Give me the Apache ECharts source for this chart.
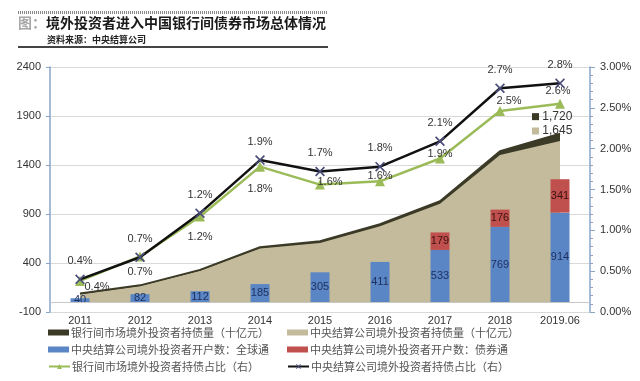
<!DOCTYPE html>
<html>
<head>
<meta charset="utf-8">
<script src="https://cdn.jsdelivr.net/npm/echarts@6/dist/echarts.min.js"></script>
<style>html,body{margin:0;padding:0;background:#fff;}#c{width:640px;height:381px;}</style>
</head>
<body>
<div id="c"></div>
<script>
var categories = ['2011','2012','2013','2014','2015','2016','2017','2018','2019.06'];
var interbankHold = [88, 172, 330, 562, 622, 795, 1030, 1540, 1720];
var ccdcHold = [80, 165, 320, 548, 605, 775, 1005, 1502, 1645];
var accountsGlobal = [40, 82, 112, 185, 305, 411, 533, 769, 914];
var accountsBondConnect = [null, null, null, null, null, null, 179, 176, 341];
var interbankShare = [0.38, 0.68, 1.17, 1.78, 1.56, 1.6, 1.88, 2.46, 2.55];
var ccdcShare = [0.4, 0.67, 1.21, 1.86, 1.72, 1.78, 2.09, 2.74, 2.8];
var interbankShareLabels = ['0.4%','0.7%','1.2%','1.8%','1.6%','1.6%','1.9%','2.5%','2.6%'];
var ccdcShareLabels = ['0.4%','0.7%','1.2%','1.9%','1.7%','1.8%','2.1%','2.7%','2.8%'];
var leftTicks = [-100, 2400, 500];
var rightTicks = [0, 3, 0.5];

var names = {
  ib: '银行间市场境外投资者持债量（十亿元）',
  cc: '中央结算公司境外投资者持债量（十亿元）',
  g: '中央结算公司境外投资者开户数：全球通',
  b: '中央结算公司境外投资者开户数：债券通',
  ibs: '银行间市场境外投资者持债占比（右）',
  ccs: '中央结算公司境外投资者持债占比（右）'
};

var greenLabelPos = [
  {position:'bottom', offset:[17,-9]},
  {position:'bottom', distance:5},
  {position:'bottom', distance:10},
  {position:'bottom', distance:12},
  {position:'inside', offset:[10,-3]},
  {position:'inside', offset:[0,-5]},
  {position:'inside', offset:[0,-4]},
  {position:'top', offset:[9,5]},
  {position:'top', offset:[-2,3]}
];

var greenData = interbankShare.map(function(v,i){
  return {value:v, label:Object.assign({formatter: interbankShareLabels[i]}, greenLabelPos[i])};
});
var blackData = ccdcShare.map(function(v,i){
  return {value:v, label:{formatter: ccdcShareLabels[i]}};
});

var xPath = 'path://M0,1.2L1.2,0L10,8.8L8.8,10Z M8.8,0L10,1.2L1.2,10L0,8.8Z';
var font = '"Liberation Sans", Arial, sans-serif';
var cjk = '"Noto Sans CJK SC", sans-serif';

function leg(name, left, top, icon) {
  var d = {name:name};
  if (icon) d.icon = icon;
  return {
    orient:'horizontal', left:left, top:top, itemWidth:21, itemHeight:6, itemGap:0,
    padding:0, selectedMode:false,
    textStyle:{fontFamily:cjk, fontSize:11, color:'#555', padding:[0,0,0,-3]},
    data:[d]
  };
}

var chart = echarts.init(document.getElementById('c'));
chart.setOption({
  animation: false,
  backgroundColor: '#fff',
  graphic: [
    {type:'line', shape:{x1:18,y1:12.5,x2:328,y2:12.5}, style:{stroke:'#888', lineWidth:3, lineDash:[1,1]}},
    {type:'text', left:18, top:16, style:{text:'图：', font:'bold 14px '+cjk, fill:'#a8a8a8'}},
    {type:'text', left:46, top:16, style:{text:'境外投资者进入中国银行间债券市场总体情况', font:'bold 14px '+cjk, fill:'#1a1a1a'}},
    {type:'text', left:47, top:35, style:{text:'资料来源：中央结算公司', font:'bold 9px '+cjk, fill:'#222'}},
    {type:'line', shape:{x1:18,y1:47,x2:328,y2:47}, style:{stroke:'#444', lineWidth:2}}
  ],
  grid: {left:50, right:50, top:67, bottom:69},
  legend: [
    leg(names.ib, 48, 327, 'rect'),
    leg(names.g, 48, 344, 'rect'),
    leg(names.ibs, 48, 361),
    leg(names.cc, 287, 327, 'rect'),
    leg(names.b, 287, 344, 'rect'),
    leg(names.ccs, 287, 361)
  ],
  xAxis: {
    type:'category', data:categories, boundaryGap:true,
    axisLine:{show:false}, axisTick:{show:false},
    axisLabel:{fontFamily:font, fontSize:11, color:'#333', margin:3, interval:0}
  },
  yAxis: [
    {
      type:'value', min:leftTicks[0], max:leftTicks[1], interval:leftTicks[2],
      axisLine:{show:true, lineStyle:{color:'#8aa4c8', width:1.5}},
      axisTick:{show:true, length:4, lineStyle:{color:'#8aa4c8'}},
      axisLabel:{fontFamily:font, fontSize:11, color:'#333', margin:9, formatter:function(v){return String(v);}},
      splitLine:{show:true, lineStyle:{color:'#d9d9d9'}}
    },
    {
      type:'value', min:rightTicks[0], max:rightTicks[1], interval:rightTicks[2],
      axisLine:{show:true, lineStyle:{color:'#8aa4c8', width:1.5}},
      axisTick:{show:true, length:5, lineStyle:{color:'#8aa4c8'}},
      minorTick:{show:true, splitNumber:5, length:3, lineStyle:{color:'#8aa4c8'}},
      axisLabel:{fontFamily:font, fontSize:11, color:'#333', margin:10, formatter:function(v){return v.toFixed(2)+'%';}},
      splitLine:{show:false}
    }
  ],
  series: [
    {
      name:names.ib, type:'line', data:interbankHold, showSymbol:false, symbol:'none', z:1,
      lineStyle:{color:'#3b3a27', width:2}, itemStyle:{color:'#3b3a27'},
      areaStyle:{color:'#3b3a27', opacity:1},
      endLabel:{show:true, distance:0, offset:[-28,-17], formatter:'{s|} 1,720',
        fontFamily:font, fontSize:12, color:'#333',
        rich:{s:{width:7, height:7, backgroundColor:'#3b3a27'}}}
    },
    {
      name:names.cc, type:'line', data:ccdcHold, showSymbol:false, symbol:'none', z:1,
      lineStyle:{width:0, color:'#c4bb9c'}, itemStyle:{color:'#c4bb9c'},
      areaStyle:{color:'#c4bb9c', opacity:1},
      endLabel:{show:true, distance:0, offset:[-28,-10], formatter:'{s|} 1,645',
        fontFamily:font, fontSize:12, color:'#333',
        rich:{s:{width:7, height:7, backgroundColor:'#c4bb9c'}}}
    },
    {
      name:names.g, type:'bar', stack:'acc', data:accountsGlobal, barWidth:19, z:3,
      itemStyle:{color:'#5b86c6'},
      label:{show:true, position:'inside', fontFamily:font, fontSize:11, color:'#1c2f5e'},
      markLine:{silent:true, symbol:'none', label:{show:false}, lineStyle:{color:'#c8c8c8', type:'solid', width:1},
        data:[{yAxis:0}]}
    },
    {
      name:names.b, type:'bar', stack:'acc', data:accountsBondConnect, barWidth:19, z:3,
      itemStyle:{color:'#c0504d'},
      label:{show:true, position:'inside', fontFamily:font, fontSize:11, color:'#3a1212'}
    },
    {
      name:names.ibs, type:'line', yAxisIndex:1, data:greenData, z:4,
      symbol:'triangle', symbolSize:10, itemStyle:{color:'#9bbb59'},
      lineStyle:{color:'#9bbb59', width:2.5},
      label:{show:true, fontFamily:font, fontSize:11, color:'#333'}
    },
    {
      name:names.ccs, type:'line', yAxisIndex:1, data:blackData, z:5,
      symbol:xPath, symbolSize:10, itemStyle:{color:'#4a4d7a'},
      lineStyle:{color:'#111', width:2.5},
      label:{show:true, position:'top', distance:8, fontFamily:font, fontSize:11, color:'#333'}
    }
  ]
});
</script>
</body>
</html>
